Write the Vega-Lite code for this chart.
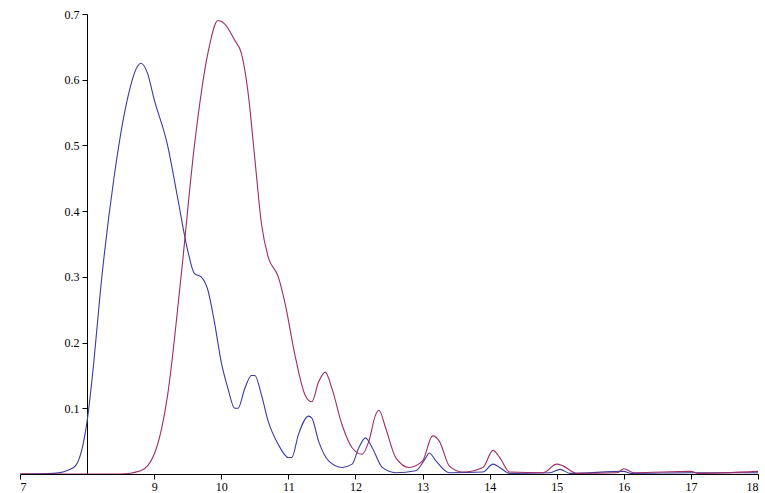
{"$schema":"https://vega.github.io/schema/vega-lite/v6.json","autosize":"none","width":738,"height":460,"padding":{"left":20,"top":14,"right":7,"bottom":19},"background":"white","config":{"view":{"stroke":null},"font":"Liberation Serif","axis":{"labelFont":"Liberation Serif","labelFontSize":12,"labelColor":"#000","domainColor":"#000","tickColor":"#000","grid":false,"title":null}},
"data":{"values":[
{"s":"b","x":7,"y":0},{"s":"b","x":7.5,"y":0.001},{"s":"b","x":7.8,"y":0.01},{"s":"b","x":7.95,"y":0.05},{"s":"b","x":8.0,"y":0.08},{"s":"b","x":8.1,"y":0.17},{"s":"b","x":8.2,"y":0.28},{"s":"b","x":8.4,"y":0.45},{"s":"b","x":8.6,"y":0.57},{"s":"b","x":8.75,"y":0.62},{"s":"b","x":8.8,"y":0.625},{"s":"b","x":8.9,"y":0.61},{"s":"b","x":9.0,"y":0.57},{"s":"b","x":9.2,"y":0.5},{"s":"b","x":9.35,"y":0.42},{"s":"b","x":9.5,"y":0.34},{"s":"b","x":9.6,"y":0.305},{"s":"b","x":9.7,"y":0.3},{"s":"b","x":9.8,"y":0.28},{"s":"b","x":9.9,"y":0.23},{"s":"b","x":10.0,"y":0.17},{"s":"b","x":10.1,"y":0.13},{"s":"b","x":10.2,"y":0.1},{"s":"b","x":10.25,"y":0.1},{"s":"b","x":10.35,"y":0.13},{"s":"b","x":10.45,"y":0.15},{"s":"b","x":10.5,"y":0.15},{"s":"b","x":10.6,"y":0.12},{"s":"b","x":10.7,"y":0.08},{"s":"b","x":10.85,"y":0.045},{"s":"b","x":11.0,"y":0.025},{"s":"b","x":11.05,"y":0.025},{"s":"b","x":11.15,"y":0.06},{"s":"b","x":11.3,"y":0.088},{"s":"b","x":11.35,"y":0.085},{"s":"b","x":11.45,"y":0.05},{"s":"b","x":11.6,"y":0.02},{"s":"b","x":11.8,"y":0.01},{"s":"b","x":11.95,"y":0.015},{"s":"b","x":12.05,"y":0.04},{"s":"b","x":12.15,"y":0.055},{"s":"b","x":12.25,"y":0.04},{"s":"b","x":12.4,"y":0.01},{"s":"b","x":12.6,"y":0.002},{"s":"b","x":12.9,"y":0.005},{"s":"b","x":13.05,"y":0.025},{"s":"b","x":13.1,"y":0.032},{"s":"b","x":13.2,"y":0.02},{"s":"b","x":13.4,"y":0.002},{"s":"b","x":13.9,"y":0.003},{"s":"b","x":14.05,"y":0.015},{"s":"b","x":14.15,"y":0.01},{"s":"b","x":14.3,"y":0.001},{"s":"b","x":14.9,"y":0.002},{"s":"b","x":15.05,"y":0.007},{"s":"b","x":15.2,"y":0.001},{"s":"b","x":16.0,"y":0.004},{"s":"b","x":16.1,"y":0.001},{"s":"b","x":17.0,"y":0.002},{"s":"b","x":18,"y":0.002},
{"s":"r","x":7,"y":0},{"s":"r","x":8.5,"y":0},{"s":"r","x":8.8,"y":0.005},{"s":"r","x":9.0,"y":0.03},{"s":"r","x":9.2,"y":0.12},{"s":"r","x":9.4,"y":0.3},{"s":"r","x":9.6,"y":0.5},{"s":"r","x":9.8,"y":0.64},{"s":"r","x":9.95,"y":0.69},{"s":"r","x":10.05,"y":0.685},{"s":"r","x":10.2,"y":0.66},{"s":"r","x":10.3,"y":0.64},{"s":"r","x":10.4,"y":0.58},{"s":"r","x":10.5,"y":0.48},{"s":"r","x":10.6,"y":0.38},{"s":"r","x":10.7,"y":0.33},{"s":"r","x":10.85,"y":0.3},{"s":"r","x":10.95,"y":0.26},{"s":"r","x":11.1,"y":0.18},{"s":"r","x":11.25,"y":0.12},{"s":"r","x":11.35,"y":0.11},{"s":"r","x":11.45,"y":0.14},{"s":"r","x":11.55,"y":0.155},{"s":"r","x":11.65,"y":0.13},{"s":"r","x":11.8,"y":0.075},{"s":"r","x":11.95,"y":0.04},{"s":"r","x":12.1,"y":0.03},{"s":"r","x":12.2,"y":0.05},{"s":"r","x":12.3,"y":0.09},{"s":"r","x":12.35,"y":0.097},{"s":"r","x":12.45,"y":0.07},{"s":"r","x":12.6,"y":0.025},{"s":"r","x":12.8,"y":0.01},{"s":"r","x":13.0,"y":0.02},{"s":"r","x":13.15,"y":0.058},{"s":"r","x":13.25,"y":0.05},{"s":"r","x":13.4,"y":0.012},{"s":"r","x":13.6,"y":0.003},{"s":"r","x":13.9,"y":0.01},{"s":"r","x":14.05,"y":0.036},{"s":"r","x":14.15,"y":0.025},{"s":"r","x":14.3,"y":0.003},{"s":"r","x":14.8,"y":0.002},{"s":"r","x":15.0,"y":0.015},{"s":"r","x":15.1,"y":0.012},{"s":"r","x":15.3,"y":0.001},{"s":"r","x":15.9,"y":0.002},{"s":"r","x":16.0,"y":0.008},{"s":"r","x":16.15,"y":0.002},{"s":"r","x":17.0,"y":0.004},{"s":"r","x":17.1,"y":0.001},{"s":"r","x":18,"y":0.004}
]},
"mark":{"type":"line","interpolate":"monotone","strokeWidth":1.1,"clip":true},
"encoding":{
"x":{"field":"x","type":"quantitative","scale":{"domain":[7,18],"nice":false,"zero":false},"axis":{"values":[7,9,10,11,12,13,14,15,16,17,18],"tickSize":5,"labelPadding":2}},
"y":{"field":"y","type":"quantitative","scale":{"domain":[0,0.7],"nice":false},"axis":{"values":[0.1,0.2,0.3,0.4,0.5,0.6,0.7],"offset":-67,"tickSize":5,"labelPadding":3,"format":".1f"}},
"color":{"field":"s","type":"nominal","scale":{"domain":["b","r"],"range":["#3b3ba0","#9e2d65"]},"legend":null},
"order":{"field":"x","type":"quantitative"}
}}
